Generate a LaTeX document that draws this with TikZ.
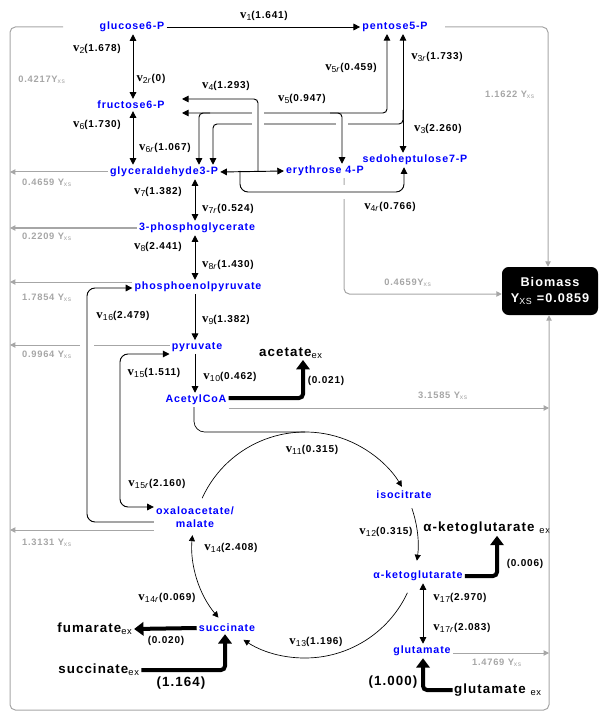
\documentclass[tikz,border=0pt]{standalone}
\usepackage{fontspec}
\setmainfont{Liberation Sans}
\newfontfamily\spfont[LetterSpace=8]{Liberation Sans}
\newfontfamily\vfont{Liberation Serif}
\usetikzlibrary{arrows.meta,positioning,calc}
\newcommand\vfl[2]{{\vfont\bfseries\fontsize{9.5}{10}\selectfont v}\raisebox{-1.6pt}{\mdseries\fontsize{6.5}{7}\selectfont#1}(#2)}
\newcommand\yxs[1]{#1Y\textsubscript{\mdseries xs}}
\newcommand\exs[1]{#1\textsubscript{\mdseries ex}}

\begin{document}
\begin{tikzpicture}[x=0.75pt, y=-0.75pt,
    met/.style={text=blue, inner sep=1.5pt, font=\spfont\bfseries\fontsize{8}{9.75}\selectfont},
    flx/.style={inner sep=0pt, font=\spfont\bfseries\fontsize{7.5}{9}\selectfont},
    ext/.style={inner sep=1pt, font=\spfont\bfseries\fontsize{10}{12}\selectfont},
    ylab/.style={inner sep=0pt, text=gray!70, font=\spfont\bfseries\fontsize{7}{8}\selectfont},
    rx/.style={draw, line width=0.7pt, -{Triangle[length=5pt,width=5pt]}},
    rxd/.style={rx, {Triangle[length=5pt,width=5pt]}-{Triangle[length=5pt,width=5pt]}},
    tcl/.style={draw, line width=0.5pt},
    tcr/.style={tcl, -{Triangle[length=4.5pt,width=4.5pt]}},
    tcd/.style={tcl, {Triangle[length=4.5pt,width=4.5pt]}-{Triangle[length=4.5pt,width=4.5pt]}},
    bm/.style={draw=gray!70, line width=0.75pt, -{Triangle[length=4pt,width=4pt]}},
    thk/.style={draw, line width=3pt, -{Triangle[length=7pt,width=10pt]}},
    gapw/.style={draw=white, line width=4pt},
    biobox/.style={fill=black, text=white, rounded corners=5pt, align=center,
      minimum width=72pt, minimum height=36pt, inner sep=1pt,
      font=\spfont\bfseries\fontsize{9.5}{12}\selectfont}]
\useasboundingbox (0,0) rectangle (600,720);

\node[met] (g6p) at (132,27) {glucose6-P};
\node[met] (p5p) at (395,27) {pentose5-P};
\node[met] (f6p) at (131,105) {fructose6-P};
\node[met] (gap) at (164,172) {glyceraldehyde3-P};
\node[met] (e4p) at (325,171) {erythrose 4-P};
\node[met] (s7p) at (415,160) {sedoheptulose7-P};
\node[met] (pg3) at (197,228) {3-phosphoglycerate};
\node[met] (pep) at (198,287) {phosphoenolpyruvate};
\node[met] (pyr) at (197,347) {pyruvate};
\node[met] (acoa) at (196,400) {AcetylCoA};
\node[met, align=center] (oaa) at (195,517) {oxaloacetate/\\malate};
\node[met] (icit) at (404,495) {isocitrate};
\node[met] (akg) at (418,576) {α-ketoglutarate};
\node[met] (glu) at (422,651) {glutamate};
\node[met] (suc) at (227,628) {succinate};
\node[biobox] (bio) at (550,291) {Biomass\\Y\textsubscript{\mdseries XS} =0.0859};

\node[ext] (acex) at (291,353) {\exs{acetate}};
\node[ext] (akgex) at (487,528) {\exs{α-ketoglutarate }};
\node[ext] (gluex) at (498,690) {\exs{glutamate }};
\node[ext] (fumex) at (95,629) {\exs{fumarate}};
\node[ext] (sucex) at (99,670) {\exs{succinate}};

\node[flx] (f1) at (264,16) {\vfl{1}{1.641}};
\node[flx] (f2) at (97,49) {\vfl{2}{1.678}};
\node[flx] (f2r) at (151,79) {\vfl{2\textit{r}}{0}};
\node[flx] (f6) at (97,125) {\vfl{6}{1.730}};
\node[flx] (f6r) at (165,148) {\vfl{6\textit{r}}{1.067}};
\node[flx] (f4) at (226,86) {\vfl{4}{1.293}};
\node[flx] (f5) at (302,99) {\vfl{5}{0.947}};
\node[flx] (f5r) at (351,68) {\vfl{5\textit{r}}{0.459}};
\node[flx] (f3r) at (437,57) {\vfl{3\textit{r}}{1.733}};
\node[flx] (f3) at (438,129) {\vfl{3}{2.260}};
\node[flx] (f4r) at (390,207) {\vfl{4\textit{r}}{0.766}};
\node[flx] (f7) at (158,192) {\vfl{7}{1.382}};
\node[flx] (f7r) at (228,209) {\vfl{7\textit{r}}{0.524}};
\node[flx] (f8) at (158,247) {\vfl{8}{2.441}};
\node[flx] (f8r) at (228,265) {\vfl{8\textit{r}}{1.430}};
\node[flx] (f9) at (226,320) {\vfl{9}{1.382}};
\node[flx] (f16) at (123,316) {\vfl{16}{2.479}};
\node[flx] (f15) at (154,373) {\vfl{15}{1.511}};
\node[flx] (f10) at (230,377) {\vfl{10}{0.462}};
\node[flx] (f15r) at (157,484) {\vfl{15\textit{r}}{2.160}};
\node[flx] (f11) at (312,450) {\vfl{11}{0.315}};
\node[flx] (f12) at (386,532) {\vfl{12}{0.315}};
\node[flx] (f14) at (231,548) {\vfl{14}{2.408}};
\node[flx] (f14r) at (167,598) {\vfl{14\textit{r}}{0.069}};
\node[flx] (f13) at (316,642) {\vfl{13}{1.196}};
\node[flx] (f17) at (460,598) {\vfl{17}{2.970}};
\node[flx] (f17r) at (462,628) {\vfl{17\textit{r}}{2.083}};

\node[flx] (a1) at (326,381) {(0.021)};
\node[flx] (a2) at (525,564) {(0.006)};
\node[flx] (a3) at (166,641) {(0.020)};
\node[ext] (a4) at (181,683) {(1.164)};
\node[ext] (a5) at (393,682) {(1.000)};

\node[ylab] (y1) at (42,80) {\yxs{0.4217}};
\node[ylab] (y2) at (47,183) {\yxs{0.4659 }};
\node[ylab] (y3) at (47,237) {\yxs{0.2209 }};
\node[ylab] (y4) at (47,298) {\yxs{1.7854 }};
\node[ylab] (y5) at (47,355) {\yxs{0.9964 }};
\node[ylab] (y6) at (47,543) {\yxs{1.3131 }};
\node[ylab] (y7) at (510,95) {\yxs{1.1622 }};
\node[ylab] (y8) at (408,283) {\yxs{0.4659}};
\node[ylab] (y9) at (443,396) {\yxs{3.1585 }};
\node[ylab] (y10) at (497,663) {\yxs{1.4769 }};

\draw[bm, rounded corners=4pt] (63,27) -| (10,710) -| (bio.south -| 549,0);
\draw[bm, rounded corners=4pt] (445,27) -| (bio.north -| 548,0);
\draw[bm] (gap.west) -- (10,172);
\draw[bm] (pg3.west) -- (10,228);
\draw[bm] (pep.west |- 0,282) -- (10,282);
\draw[bm] (pyr.west |- 0,345) -- (10,345);
\draw[bm] (oaa.west |- 0,530) -- (10,530);
\draw[bm, rounded corners=4pt] (e4p.south -| 344,0) |- (bio.west |- 0,294);
\draw[bm] (acoa.east |- 0,408) -- (549,408);
\draw[bm] (glu.east |- 0,653) -- (549,653);

\draw[rx] (g6p.east) -- (p5p.west);
\draw[rxd] (g6p.south -| 133,0) -- (f6p.north -| 133,0);
\draw[rxd] (f6p.south -| 133,0) -- (gap.north -| 133,0);
\draw[rxd] (p5p.south -| 403,0) -- (s7p.north -| 403,0);
\draw[rxd, rounded corners=3pt] (p5p.south -| 387,0) |- (182,113);
\draw[rx, rounded corners=3pt] (210,113) -| (gap.north -| 199,0);
\draw[rx, rounded corners=3pt] (403,110) |- (213,124) -- (gap.north -| 213,0);
\draw[rxd] (gap.east) -- (e4p.west);
\draw[gapw] (252,113) -- (264,113);
\draw[gapw] (252,124) -- (264,124);
\draw[gapw] (336,124) -- (348,124);
\draw[gapw] (344,185) -- (344,199);
\draw[gapw] (80,345) -- (94,345);
\draw[rx, rounded corners=3pt] (258,171) |- (182,99);
\draw[rx, rounded corners=3pt] (330,113) -| (e4p.north -| 342,0);
\draw[rx, rounded corners=6pt] (240,171) |- (404,192) -- (s7p.south -| 404,0);

\draw[rxd] (gap.south -| 195,0) -- (pg3.north -| 195,0);
\draw[rxd] (pg3.south -| 195,0) -- (pep.north -| 195,0);
\draw[rx] (pep.south -| 195,0) -- (pyr.north -| 195,0);
\draw[rx] (pyr.south -| 195,0) -- (acoa.north -| 195,0);
\draw[rx, rounded corners=6pt] (oaa.west |- 0,522) -| (87,288) -- (pep.west |- 0,288);
\draw[rxd, rounded corners=6pt] (oaa.west |- 0,507) -| (120,354) -- (pyr.west |- 0,354);

\coordinate (tca) at (305,545);
\draw[tcl, rounded corners=8pt] (acoa.south -| 194,0) |- ($(tca)+(0,-113)$);
\draw[tcr] ($(tca)+(-155.5:113)$) arc[start angle=-155.5, end angle=-31, radius=113];
\draw[tcr] ($(tca)+(-19:113)$) arc[start angle=-19, end angle=8, radius=113];
\draw[tcr] ($(tca)+(25:113)$) arc[start angle=25, end angle=123, radius=113];
\draw[tcd] ($(tca)+(140:113)$) arc[start angle=140, end angle=185, radius=113];
\draw[rxd] (akg.south -| 423,0) -- (glu.north -| 423,0);

\draw[thk, rounded corners=3pt] (acoa.east |- 0,398) -| (acex.south -| 303,0);
\draw[thk, rounded corners=3pt] (akg.east) -| (akgex.south -| 497,0);
\draw[thk, rounded corners=3pt] (gluex.west) -| (glu.south -| 423,0);
\draw[thk] (suc.west) -- (fumex.east);
\draw[thk, rounded corners=3pt] (sucex.east) -| (suc.south -| 225,0);
\end{tikzpicture}
\end{document}
